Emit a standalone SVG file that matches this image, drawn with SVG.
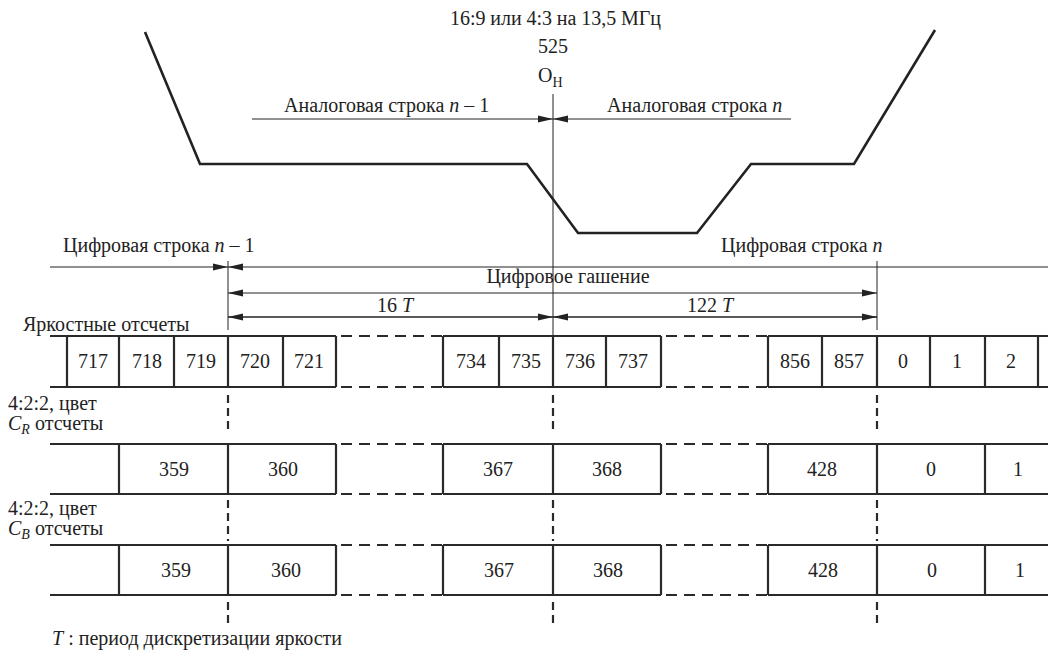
<svg xmlns="http://www.w3.org/2000/svg" width="1048" height="653" viewBox="0 0 1048 653">
<defs>
<marker id="ah" markerWidth="16" markerHeight="8" refX="15" refY="4" orient="auto-start-reverse" markerUnits="userSpaceOnUse">
<path d="M0,0.6 L15,4 L0,7.4 z" fill="#222"/>
</marker>
<style>
text{font-family:"Liberation Serif","Times New Roman",serif;font-size:20px;fill:#222}
.c{text-anchor:middle}
.i{font-style:italic}
.sub{font-size:14px}
.thin{stroke:#222;stroke-width:1;fill:none}
.wave{stroke:#222;stroke-width:2.6;fill:none;stroke-linejoin:miter}
.box{stroke:#2a2a2a;stroke-width:2.2;fill:none}
.dh{stroke:#2a2a2a;stroke-width:2.2;fill:none;stroke-dasharray:11 7}
.dv{stroke:#2a2a2a;stroke-width:2.2;fill:none;stroke-dasharray:8 5}
</style>
</defs>
<rect width="1048" height="653" fill="#fff"/>

<g id="header">
<text x="450" y="25" textLength="211" lengthAdjust="spacing">16:9 или 4:3 на 13,5 МГц</text>
<text class="c" x="553" y="53">525</text>
<text x="538" y="82">O<tspan class="sub" dy="5">H</tspan></text>
</g>

<g id="waveform">
<polyline class="wave" points="145,32 200,164 527,164 578,233 697,233 751,164 854,164 935,30"/>
</g>

<g id="labels">
<text x="284" y="112">Аналоговая строка <tspan class="i">n</tspan> – 1</text>
<text x="607" y="112">Аналоговая строка <tspan class="i">n</tspan></text>
<text x="63" y="252">Цифровая строка <tspan class="i">n</tspan> – 1</text>
<text x="721" y="252">Цифровая строка <tspan class="i">n</tspan></text>
<text class="c" x="568" y="283">Цифровое гашение</text>
<text x="377" y="312">16 <tspan class="i">T</tspan></text>
<text x="687" y="312">122 <tspan class="i">T</tspan></text>
<text x="23" y="331">Яркостные отсчеты</text>
<text x="8" y="410">4:2:2, цвет</text>
<text x="8" y="430"><tspan class="i">C</tspan><tspan class="i sub" dy="4">R</tspan><tspan dy="-4"> отсчеты</tspan></text>
<text x="8" y="515">4:2:2, цвет</text>
<text x="8" y="535"><tspan class="i">C</tspan><tspan class="i sub" dy="4">B</tspan><tspan dy="-4"> отсчеты</tspan></text>
<text x="52" y="645"><tspan class="i">T</tspan> : период дискретизации яркости</text>
</g>

<g id="connectors">
<line class="thin" x1="553" y1="94" x2="553" y2="337"/>
<line class="thin" x1="228" y1="261" x2="228" y2="330"/>
<line class="thin" x1="877" y1="261" x2="877" y2="330"/>
<line class="thin" x1="252" y1="119" x2="553" y2="119" marker-end="url(#ah)"/>
<line class="thin" x1="791" y1="119" x2="553" y2="119" marker-end="url(#ah)"/>
<line class="thin" x1="50" y1="267" x2="228" y2="267" marker-end="url(#ah)"/>
<line class="thin" x1="1048" y1="267" x2="228" y2="267" marker-end="url(#ah)"/>
<line class="thin" x1="228" y1="293" x2="877" y2="293" marker-start="url(#ah)" marker-end="url(#ah)"/>
<line class="thin" x1="553" y1="317" x2="228" y2="317" marker-end="url(#ah)"/>
<line class="thin" x1="228" y1="317" x2="553" y2="317" marker-end="url(#ah)"/>
<line class="thin" x1="877" y1="317" x2="553" y2="317" marker-end="url(#ah)"/>
<line class="thin" x1="553" y1="317" x2="877" y2="317" marker-end="url(#ah)"/>
<path class="dv" d="M228,395 V434 M228,500 V541 M228,602 V626"/>
<path class="dv" d="M553,395 V434 M553,500 V541 M553,602 V626"/>
<path class="dv" d="M877,395 V434 M877,500 V541 M877,602 V626"/>
</g>

<g id="luma">
<path class="box" d="M50,336 H336 M50,387 H336 M67,336 V387 M119,336 V387 M174,336 V387 M228,336 V387 M283,336 V387 M336,336 V387"/>
<path class="dh" d="M341,336 H443 M341,387 H443"/>
<path class="box" d="M443,336 H661 M443,387 H661 M443,336 V387 M499,336 V387 M553,336 V387 M606,336 V387 M661,336 V387"/>
<path class="dh" d="M666,336 H768 M666,387 H768"/>
<path class="box" d="M768,336 H1048 M768,387 H1048 M768,336 V387 M822,336 V387 M877,336 V387 M930,336 V387 M985,336 V387 M1038,336 V387"/>
<text class="c" x="93" y="368">717</text>
<text class="c" x="147" y="368">718</text>
<text class="c" x="201" y="368">719</text>
<text class="c" x="255" y="368">720</text>
<text class="c" x="309" y="368">721</text>
<text class="c" x="471" y="368">734</text>
<text class="c" x="526" y="368">735</text>
<text class="c" x="580" y="368">736</text>
<text class="c" x="633" y="368">737</text>
<text class="c" x="795" y="368">856</text>
<text class="c" x="849" y="368">857</text>
<text class="c" x="903" y="368">0</text>
<text class="c" x="957" y="368">1</text>
<text class="c" x="1011" y="368">2</text>
</g>

<g id="cr">
<path class="box" d="M50,444 H336 M50,494 H336 M119,444 V494 M228,444 V494 M336,444 V494"/>
<path class="dh" d="M341,444 H443 M341,494 H443"/>
<path class="box" d="M443,444 H661 M443,494 H661 M443,444 V494 M553,444 V494 M661,444 V494"/>
<path class="dh" d="M666,444 H768 M666,494 H768"/>
<path class="box" d="M768,444 H1048 M768,494 H1048 M768,444 V494 M877,444 V494 M985,444 V494"/>
<text class="c" x="174" y="476">359</text>
<text class="c" x="283" y="476">360</text>
<text class="c" x="498" y="476">367</text>
<text class="c" x="607" y="476">368</text>
<text class="c" x="822" y="476">428</text>
<text class="c" x="931" y="476">0</text>
<text class="c" x="1018" y="476">1</text>
</g>

<g id="cb">
<path class="box" d="M50,545 H336 M50,595 H336 M119,545 V595 M228,545 V595 M336,545 V595"/>
<path class="dh" d="M341,545 H443 M341,595 H443"/>
<path class="box" d="M443,545 H661 M443,595 H661 M443,545 V595 M553,545 V595 M661,545 V595"/>
<path class="dh" d="M666,545 H768 M666,595 H768"/>
<path class="box" d="M768,545 H1048 M768,595 H1048 M768,545 V595 M877,545 V595 M985,545 V595"/>
<text class="c" x="176" y="577">359</text>
<text class="c" x="286" y="577">360</text>
<text class="c" x="499" y="577">367</text>
<text class="c" x="608" y="577">368</text>
<text class="c" x="823" y="577">428</text>
<text class="c" x="932" y="577">0</text>
<text class="c" x="1020" y="577">1</text>
</g>
</svg>
